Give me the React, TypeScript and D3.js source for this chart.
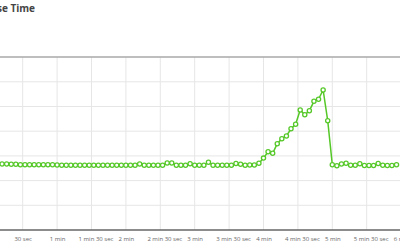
import React from "react";
import * as d3 from "d3";

// Sample times (seconds) — one sample every 4 s, first visible at 12 s
const startTime = 12;
const sampleInterval = 4;

// Response time values (ms)
const responseTimes = [
  133.5, 133.5, 133, 133, 132, 132, 132, 132, 132, 132, // 12..48
  132, 132, 131.5, 131, 131, 131, 131, 131, 131, 131,   // 52..88
  131, 131, 131, 131, 131, 131, 131, 131, 131, 131,     // 92..128
  133.5, 131, 131, 131, 131, 131, 135.5, 135.5, 131, 131, // 132..168
  131, 134, 131, 131, 131, 137, 131, 131, 131, 131,     // 172..208
  131, 134.5, 133, 131, 131.5, 131.5, 135, 145.5, 158.5, 155.3, // 212..248
  174.7, 184.8, 190.3, 205, 214, 243, 233.4, 241.5, 260.5, 264.6, // 252..288
  283.4, 221.3, 132.2, 130.2, 133.5, 135, 131, 131, 134, 130.5, // 292..328
  130.5, 130.5, 134.5, 131, 130.5, 130.5, 132,          // 332..356
];

const tickValues = [30, 60, 90, 120, 150, 180, 210, 240, 270, 300, 330, 360];
const tickLabels = [
  "30 sec", "1 min", "1 min 30 sec", "2 min", "2 min 30 sec", "3 min",
  "3 min 30 sec", "4 min", "4 min 30 sec", "5 min", "5 min 30 sec", "6 min",
];
const yGridValues = [50, 100, 150, 200, 250, 300];

const title = "Response Time";

export default function App() {
  const W = 400;
  const H = 250;
  const x = d3.scaleLinear().domain([0, 360]).range([-11.7, 401.1]);
  const y = d3.scaleLinear().domain([0, 350]).range([230, 57.1]);

  const data = responseTimes.map((v, i) => ({ t: startTime + i * sampleInterval, v }));
  const line = d3
    .line<{ t: number; v: number }>()
    .x((d) => x(d.t))
    .y((d) => y(d.v));

  const green = "#55c828";
  const font = "'Open Sans', 'Liberation Sans', Arial, sans-serif";

  return (
    <svg
      width={W}
      height={H}
      style={{ position: "fixed", left: 0, top: 0, background: "#fff" }}
      fontFamily={font}
    >
      <rect x={0} y={0} width={W} height={H} fill="#fff" />
      <text x={35} y={12} textAnchor="end" fontSize={10} fontWeight="bold" fill="#444">
        {title}
      </text>

      {yGridValues.map((v) => (
        <line key={"yg" + v} x1={0} x2={W} y1={y(v)} y2={y(v)} stroke="#e6e6e6" strokeWidth={1} />
      ))}
      {tickValues.map((t) => (
        <line key={"xg" + t} x1={x(t)} x2={x(t)} y1={y(350)} y2={y(0)} stroke="#e6e6e6" strokeWidth={1} />
      ))}
      <line x1={0} x2={W} y1={y(350)} y2={y(350)} stroke="#a8a8a8" strokeWidth={1.5} />
      <line x1={0} x2={W} y1={y(0)} y2={y(0)} stroke="#666" strokeWidth={1.5} />

      {tickValues.map((t, i) => (
        <text
          key={"xl" + t}
          x={x(t) + (tickLabels[i].includes("min") && tickLabels[i].includes("sec") ? 4.5 : 0.5)}
          y={241}
          textAnchor="middle"
          fontSize={6}
          fill="#666"
        >
          {tickLabels[i]}
        </text>
      ))}

      <path d={line(data) || ""} fill="none" stroke={green} strokeWidth={1.5} />
      {data.map((d, i) => (
        <circle key={i} cx={x(d.t)} cy={y(d.v)} r={2.1} fill="#fff" stroke={green} strokeWidth={1.3} />
      ))}
    </svg>
  );
}
